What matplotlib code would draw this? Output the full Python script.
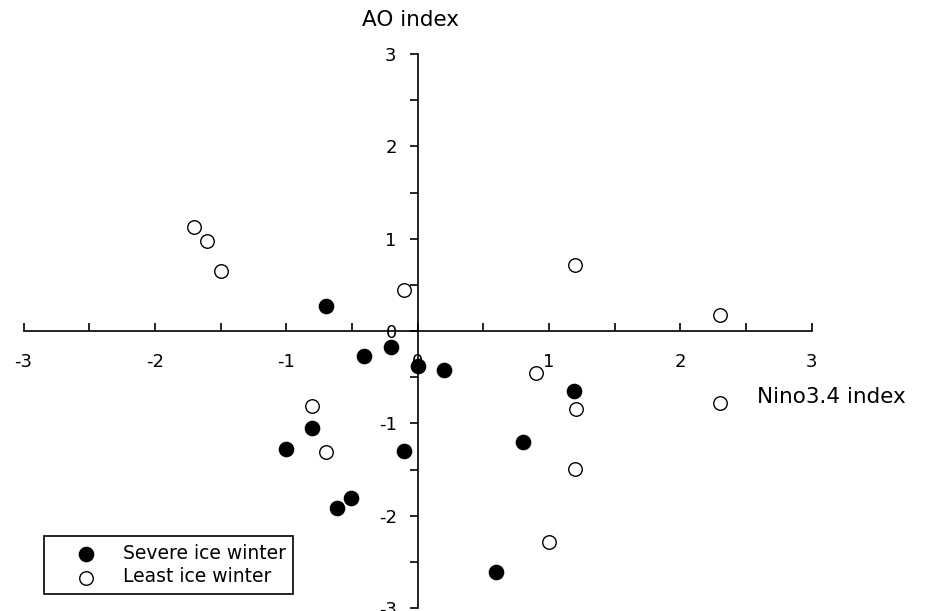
import matplotlib
matplotlib.use("Agg")
from matplotlib import pyplot as plt
from matplotlib.ticker import MultipleLocator

plt.rcParams['font.family'] = ['DejaVu Sans']

# Severe ice winters (filled)
severe_nino = [-0.70, -0.41, -0.20, 0.00, 0.20, 1.19, 0.80, -0.10, -0.80, -1.00, -0.51, -0.61, 0.60]
severe_ao = [0.27, -0.27, -0.17, -0.38, -0.42, -0.65, -1.20, -1.30, -1.05, -1.28, -1.81, -1.92, -2.61]

# Least ice winters (open)
least_nino = [-1.70, -1.60, -1.50, -0.10, 1.20, 2.30, 0.90, 1.21, 2.30, -0.80, -0.70, 1.20, 1.00]
least_ao = [1.13, 0.98, 0.65, 0.44, 0.71, 0.17, -0.45, -0.84, -0.78, -0.81, -1.31, -1.49, -2.28]

tick_vals = [-3, -2, -1, 0, 1, 2, 3]

fig = plt.figure(figsize=(9.27, 6.11), dpi=100)
ax = fig.add_axes([23.5 / 927, 3 / 611, 788 / 927, 554 / 611])

ax.scatter(severe_nino, severe_ao, s=105, c='black', edgecolors='black',
           linewidths=1, label='Severe ice winter', zorder=3, clip_on=False)
ax.scatter(least_nino, least_ao, s=95, c='white', edgecolors='black',
           linewidths=1, label='Least ice winter', zorder=3, clip_on=False)

ax.set_xlim(-3, 3)
ax.set_ylim(-3, 3)
ax.spines['left'].set_position(('data', 0))
ax.spines['bottom'].set_position(('data', 0))
ax.spines['top'].set_visible(False)
ax.spines['right'].set_visible(False)
for sp in ['left', 'bottom']:
    ax.spines[sp].set_linewidth(1.2)
    ax.spines[sp].set_zorder(2)

ax.set_xticks(tick_vals)
ax.set_yticks(tick_vals)
ax.set_xticklabels([str(t) for t in tick_vals])
ax.set_yticklabels([str(t) for t in tick_vals])
ax.xaxis.set_minor_locator(MultipleLocator(0.5))
ax.yaxis.set_minor_locator(MultipleLocator(0.5))
ax.tick_params(axis='x', which='both', direction='in', length=6, width=1.2,
               pad=16, labelsize=13)
ax.tick_params(axis='y', which='both', direction='out', length=6, width=1.2,
               pad=9, labelsize=13)

fig.text(410 / 927, 1 - 20 / 611, 'AO index', ha='center', va='center', fontsize=15.5)
fig.text(757 / 927, 1 - 397 / 611, 'Nino3.4 index', ha='left', va='center', fontsize=15.5)

leg = ax.legend(loc='lower left', bbox_to_anchor=(44 / 927, 17 / 611),
                bbox_transform=fig.transFigure, borderaxespad=0, fancybox=False,
                edgecolor='black', framealpha=1, fontsize=13.5, scatterpoints=1,
                handlelength=3.7, handletextpad=0.1, borderpad=0.4, labelspacing=0.25)
leg.get_frame().set_linewidth(1.2)

fig.savefig('out.png', dpi=100)
